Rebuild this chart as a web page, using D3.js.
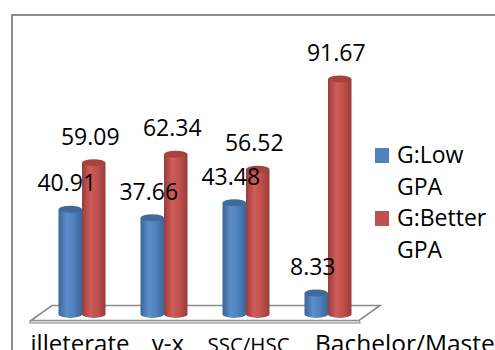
<!DOCTYPE html>
<html>
<head>
<meta charset="utf-8">
<script src="https://cdn.jsdelivr.net/npm/d3@7/dist/d3.min.js"></script>
<style>
  html, body { margin: 0; padding: 0; background: #fff; }
  svg { display: block; font-family: "Open Sans", sans-serif; }
</style>
</head>
<body>
<svg id="chart" width="495" height="350"></svg>
<script>
// Education level groups and the two GPA series (percentages)
const categories = ["illeterate", "v-x", "SSC/HSC", "Bachelor/Master"];
const seriesNames = ["G:Low GPA", "G:Better GPA"];
const lowGPA = [40.91, 37.66, 43.48, 8.33];
const betterGPA = [59.09, 62.34, 56.52, 91.67];
const seriesColors = ["#4F81BD", "#C0504D"];

const svg = d3.select("#chart");
const defs = svg.append("defs");

// Horizontal shading that gives each bar its rounded cylinder look
function cylinderGradient(id, dark, mid, light) {
  const g = defs.append("linearGradient").attr("id", id)
    .attr("x1", "0%").attr("x2", "100%").attr("y1", "0%").attr("y2", "0%");
  g.append("stop").attr("offset", "0%").attr("stop-color", dark);
  g.append("stop").attr("offset", "35%").attr("stop-color", light);
  g.append("stop").attr("offset", "65%").attr("stop-color", mid);
  g.append("stop").attr("offset", "100%").attr("stop-color", dark);
}
cylinderGradient("gBlue", "#3B6597", "#4F81BD", "#5C8ECB");
cylinderGradient("gRed", "#983C3A", "#C0504D", "#CF5D5A");
const bodyFill = ["url(#gBlue)", "url(#gRed)"];
const capFill = ["#41699C", "#A8423F"];

// Outer chart frame
svg.append("rect")
  .attr("x", 12).attr("y", 15).attr("width", 500).attr("height", 360)
  .attr("fill", "none").attr("stroke", "#8C8C8C").attr("stroke-width", 2);

// Scales
const x0 = d3.scaleBand().domain(categories).range([41, 369]).padding(0);
const barW = 23.5;
const x1 = d3.scaleBand().domain(seriesNames)
  .range([x0.bandwidth() / 2 - barW, x0.bandwidth() / 2 + barW]).padding(0);
const y = d3.scaleLinear().domain([0, 100]).range([314.4, 57.6]);

// Floor slab under the bars
const floorBack = 305.5, floorFront = 320.5, floorSkew = 21;
const fx0 = 31, fx1 = 359;
svg.append("path")
  .attr("d", `M${fx0},${floorFront} L${fx0 + floorSkew},${floorBack} L${fx1 + floorSkew},${floorBack} L${fx1},${floorFront} Z`)
  .attr("fill", "#fff").attr("stroke", "#8C8C8C").attr("stroke-width", 1.6);
svg.append("path")
  .attr("d", `M${fx0},${floorFront} L${fx1},${floorFront} L${fx1 + 1.5},${floorFront + 2.5} L${fx0 - 1.5},${floorFront + 2.5} Z`)
  .attr("fill", "#D9D9D9").attr("stroke", "#8C8C8C").attr("stroke-width", 1);

// Flatten data into one record per bar
const bars = [];
categories.forEach((c, i) => {
  bars.push({ cat: c, s: 0, v: lowGPA[i] });
  bars.push({ cat: c, s: 1, v: betterGPA[i] });
});

const ry = 3.5;
const base = y(0);
const g = svg.append("g");
bars.forEach(d => {
  const left = x0(d.cat) + x1(seriesNames[d.s]);
  const right = left + x1.bandwidth();
  const rx = (right - left) / 2;
  const top = y(d.v);
  g.append("path")
    .attr("d", `M${left},${top} L${left},${base} A${rx},${ry} 0 0 0 ${right},${base} L${right},${top} Z`)
    .attr("fill", bodyFill[d.s]);
  g.append("ellipse")
    .attr("cx", left + rx).attr("cy", top).attr("rx", rx).attr("ry", ry)
    .attr("fill", capFill[d.s]);
});

// Value labels above each bar
bars.forEach(d => {
  const cx = x0(d.cat) + x1(seriesNames[d.s]) + x1.bandwidth() / 2;
  svg.append("text")
    .attr("x", cx - 3.5).attr("y", y(d.v) - 18)
    .attr("text-anchor", "middle")
    .attr("font-size", 23).attr("fill", "#000")
    .text(d.v.toFixed(2));
});

// Category labels along the bottom (they run past the lower edge)
const catLabel = [
  { dx: -2, size: 24, anchor: "middle" },
  { dx: 4, size: 24, anchor: "middle" },
  { dx: 2.5, size: 20.5, anchor: "middle" },
  { dx: -13, size: 24.5, anchor: "start" }
];
categories.forEach((c, i) => {
  svg.append("text")
    .attr("x", x0(c) + x0.bandwidth() / 2 + catLabel[i].dx)
    .attr("y", 352)
    .attr("text-anchor", catLabel[i].anchor)
    .attr("font-size", catLabel[i].size).attr("fill", "#000")
    .text(c);
});

// Legend
const legend = svg.append("g");
const legendLines = [["G:Low", "GPA"], ["G:Better", "GPA"]];
legendLines.forEach((lines, i) => {
  const baseY = 163 + i * 63;
  legend.append("rect")
    .attr("x", 375).attr("y", baseY - 15).attr("width", 14).attr("height", 15)
    .attr("fill", seriesColors[i]);
  lines.forEach((t, j) => {
    legend.append("text")
      .attr("x", 397).attr("y", baseY + j * 32)
      .attr("font-size", 23).attr("fill", "#000")
      .text(t);
  });
});
</script>
</body>
</html>
